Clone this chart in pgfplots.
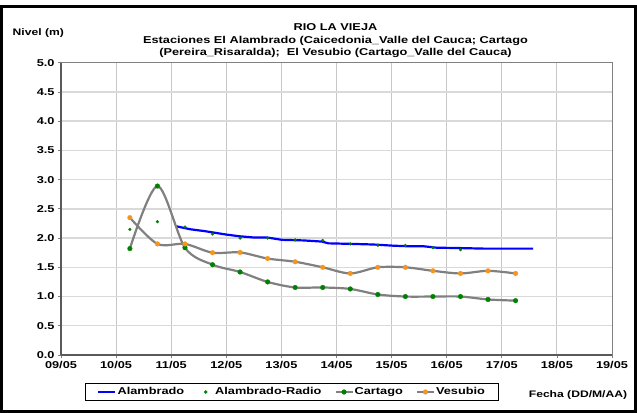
\documentclass[border=0pt]{standalone}
\usepackage{fontspec}
\setmainfont{Liberation Sans}[FakeStretch=1.28, BoldFont={Liberation Sans Bold}]
\usepackage{pgfplots}
\pgfplotsset{compat=1.18}
\definecolor{cart}{HTML}{008000}
\definecolor{vesu}{HTML}{F7941D}
\definecolor{lgray}{HTML}{808080}
\definecolor{blu}{HTML}{0000FF}
\begin{document}
\begin{tikzpicture}
\path[use as bounding box] (-61bp,-58bp) rectangle (576bp,355bp);
\draw[black, line width=3bp] (-59.5bp,-56.5bp) rectangle (574.5bp,348bp);
\begin{axis}[
  at={(0,0)}, anchor=south west,
  scale only axis, width=551bp, height=292.3bp,
  xmin=0, xmax=10, ymin=0, ymax=5,
  xtick={0,1,...,10},
  xticklabels={09/05,10/05,11/05,12/05,13/05,14/05,15/05,16/05,17/05,18/05,19/05},
  ytick={0,0.5,...,5},
  yticklabel style={/pgf/number format/.cd, fixed, fixed zerofill, precision=1, assume math mode=true},
  tick label style={font=\bfseries\fontsize{10}{11}\selectfont, black},
  tick align=outside, major tick length=3bp,
  tick pos=left,
  tick style={lgray, line width=0.8bp},
  axis line style={lgray, line width=0.8bp},
  grid=major,
  x grid style={draw=black!22, line width=0.9bp},
  y grid style={draw=black!15, line width=1.4bp},
  legend style={at={(0.0436,-0.0968)}, anchor=north west, draw=black, line width=0.7bp,
    font=\bfseries\fontsize{10}{11}\selectfont, legend columns=4,
    inner xsep=12bp, inner ysep=2bp,
    nodes={inner xsep=1bp},
    /tikz/every even column/.append style={column sep=12bp}},
  legend cell align=left,
  clip=false,
]
\addplot[blu, line width=2.2bp] coordinates {
(2.10,2.20) (2.35,2.15) (2.60,2.12) (2.80,2.09) (3.00,2.06) (3.25,2.03) (3.50,2.01)
(3.74,2.01) (4.01,1.97) (4.40,1.96) (4.74,1.94) (4.85,1.91) (5.30,1.90) (5.67,1.89)
(6.03,1.87) (6.30,1.86) (6.58,1.86) (6.82,1.835) (7.20,1.83) (7.66,1.82) (8.57,1.82)};
\addlegendentry{Alambrado}
\addplot[only marks, mark=*, mark size=1.4bp, cart,
  legend image code/.code={\path[draw=none,fill=none] (0cm,-0.1cm) rectangle (0.6cm,0.1cm);
    \pgftransformshift{\pgfpoint{0.3cm}{0cm}}\pgfuseplotmark{*}}] coordinates {
(1.25,2.15) (1.75,2.28) (2.25,2.19) (2.75,2.07) (3.25,2.00) (3.75,2.00) (4.25,1.97)
(4.75,1.96) (5.25,1.90) (5.75,1.875) (6.25,1.875) (6.75,1.835) (7.25,1.80)};
\addlegendentry{Alambrado-Radio}
\addplot[lgray, line width=2.2bp, smooth, tension=0.5, mark=*, mark size=2.4bp,
  mark options={draw=cart, fill=cart, line width=0.2bp}] coordinates {
(1.25,1.82) (1.75,2.89) (2.25,1.835) (2.75,1.545) (3.25,1.42) (3.75,1.25) (4.25,1.155)
(4.75,1.155) (5.25,1.13) (5.75,1.035) (6.25,1.00) (6.75,1.00) (7.25,1.00) (7.75,0.95) (8.25,0.93)};
\addlegendentry{Cartago}
\addplot[lgray, line width=2.2bp, smooth, tension=0.5, mark=*, mark size=2.4bp,
  mark options={draw=vesu, fill=vesu, line width=0.2bp}] coordinates {
(1.25,2.35) (1.75,1.90) (2.25,1.90) (2.75,1.75) (3.25,1.755) (3.75,1.65) (4.25,1.595)
(4.75,1.50) (5.25,1.395) (5.75,1.50) (6.25,1.50) (6.75,1.44) (7.25,1.395) (7.75,1.44) (8.25,1.395)};
\addlegendentry{Vesubio}
\draw[black!65, line width=1.3bp] (axis cs:0,0) -- (axis cs:0,5);
\draw[black!65, line width=1.1bp] (axis cs:0,0) -- (axis cs:10,0);
\end{axis}
\node[font=\bfseries\fontsize{10}{12.5}\selectfont, align=center] at (274.5bp,314bp)
  {RIO LA VIEJA\\Estaciones El Alambrado (Caicedonia\_Valle del Cauca; Cartago\\(Pereira\_Risaralda);\ \ El Vesubio (Cartago\_Valle del Cauca)};
\node[font=\bfseries\fontsize{9.5}{12}\selectfont] at (-22.7bp,322bp) {Nivel (m)};
\node[font=\bfseries\fontsize{9.5}{12}\selectfont] at (517bp,-40bp) {Fecha (DD/M/AA)};
\end{tikzpicture}
\end{document}
